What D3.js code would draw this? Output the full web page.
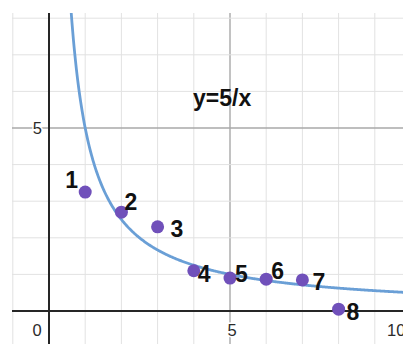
<!DOCTYPE html>
<html>
<head>
<meta charset="utf-8">
<script src="https://cdn.jsdelivr.net/npm/d3@7"></script>
<style>
  html, body { margin: 0; padding: 0; background: #fff; }
  svg { display: block; }
</style>
</head>
<body>
<div id="chart"></div>
<script>
// data
const pointNames = ["1", "2", "3", "4", "5", "6", "7", "8"];
const pointX = [1, 2, 3, 4, 5, 6, 7, 8];
const pointY = [3.25, 2.7, 2.3, 1.1, 0.9, 0.87, 0.85, 0.05];
const curveK = 5; // y = k / x
const equationText = "y=5/x";
const xTickValues = [0, 5, 10];
const yTickValues = [5];

// label placement next to each dot (px from dot centre to text start / baseline)
const labelOffsets = [[-20, -4], [3, -2], [13, 10], [4, 11], [5, 4], [5, 0], [10, 10], [8, 11]];

const width = 403, height = 344;
const plotLeft = 12, plotTop = 13;

const x = d3.scaleLinear().domain([0, 5]).range([49, 230]);
const y = d3.scaleLinear().domain([0, 5]).range([311, 128]);
const xMin = x.invert(plotLeft), xMax = x.invert(width);
const yMin = y.invert(height), yMax = y.invert(plotTop);

const svg = d3.select("#chart").append("svg")
    .attr("width", width)
    .attr("height", height)
    .attr("font-family", "Liberation Sans, Arial, sans-serif");

svg.append("clipPath").attr("id", "plot-clip")
  .append("rect")
    .attr("x", plotLeft).attr("y", plotTop)
    .attr("width", width - plotLeft).attr("height", height - plotTop);

const plot = svg.append("g").attr("clip-path", "url(#plot-clip)");

// grid lines, every unit; darker every 5
const gridX = d3.range(Math.ceil(xMin), Math.floor(xMax) + 1);
const gridY = d3.range(Math.ceil(yMin), Math.floor(yMax) + 1);

const gridStyle = v => v % 5 === 0 ? ["#a8a8a8", 1.4] : ["#e2e2e2", 1];

plot.selectAll("line.grid-x")
  .data(gridX.filter(v => v !== 0))
  .join("line")
    .attr("class", "grid-x")
    .attr("x1", d => x(d)).attr("x2", d => x(d))
    .attr("y1", plotTop).attr("y2", height)
    .attr("stroke", d => gridStyle(d)[0])
    .attr("stroke-width", d => gridStyle(d)[1]);

plot.selectAll("line.grid-y")
  .data(gridY.filter(v => v !== 0))
  .join("line")
    .attr("class", "grid-y")
    .attr("x1", plotLeft).attr("x2", width)
    .attr("y1", d => y(d)).attr("y2", d => y(d))
    .attr("stroke", d => gridStyle(d)[0])
    .attr("stroke-width", d => gridStyle(d)[1]);

// axes
plot.append("line")
    .attr("x1", x(0)).attr("x2", x(0))
    .attr("y1", plotTop).attr("y2", height)
    .attr("stroke", "#262626").attr("stroke-width", 2);
plot.append("line")
    .attr("x1", plotLeft).attr("x2", width)
    .attr("y1", y(0)).attr("y2", y(0))
    .attr("stroke", "#262626").attr("stroke-width", 2);

// tick labels
const tickStyle = sel => sel
    .attr("font-size", 16.5)
    .attr("fill", "#2b2b2b")
    .attr("stroke", "#fff")
    .attr("stroke-width", 3)
    .attr("paint-order", "stroke");

svg.selectAll("text.x-tick")
  .data(xTickValues)
  .join("text")
    .attr("class", "x-tick")
    .attr("x", d => d === 0 ? x(0) - 12 : x(d) + 2)
    .attr("y", y(0) + 25)
    .attr("text-anchor", d => x(d) > width ? "start" : "middle")
    .attr("dx", d => x(d) > width ? -(x(d) - 387) - 2 : 0)
    .text(d => d)
    .call(tickStyle);

svg.selectAll("text.y-tick")
  .data(yTickValues)
  .join("text")
    .attr("class", "y-tick")
    .attr("x", x(0) - 7)
    .attr("y", d => y(d) + 6)
    .attr("text-anchor", "end")
    .text(d => d)
    .call(tickStyle);

// y = k/x curve
const curveXs = d3.range(curveK / yMax, xMax + 0.05, 0.02);
const line = d3.line()
    .x(d => x(d))
    .y(d => y(curveK / d));

plot.append("path")
    .datum(curveXs)
    .attr("d", line)
    .attr("fill", "none")
    .attr("stroke", "#6a9fd6")
    .attr("stroke-width", 2.8);

// points
const points = pointX.map((v, i) => ({ name: pointNames[i], x: v, y: pointY[i], off: labelOffsets[i] }));

plot.selectAll("circle.pt")
  .data(points)
  .join("circle")
    .attr("class", "pt")
    .attr("cx", d => x(d.x))
    .attr("cy", d => y(d.y))
    .attr("r", 6.5)
    .attr("fill", "#7050ba");

svg.selectAll("text.pt-label")
  .data(points)
  .join("text")
    .attr("class", "pt-label")
    .attr("x", d => x(d.x) + d.off[0])
    .attr("y", d => y(d.y) + d.off[1])
    .attr("font-size", 23)
    .attr("font-weight", "bold")
    .attr("fill", "#111")
    .text(d => d.name);

// equation label
svg.append("text")
    .attr("x", x(3.98))
    .attr("y", y(5.6))
    .attr("font-size", 23)
    .attr("font-weight", "bold")
    .attr("fill", "#111")
    .text(equationText);
</script>
</body>
</html>
